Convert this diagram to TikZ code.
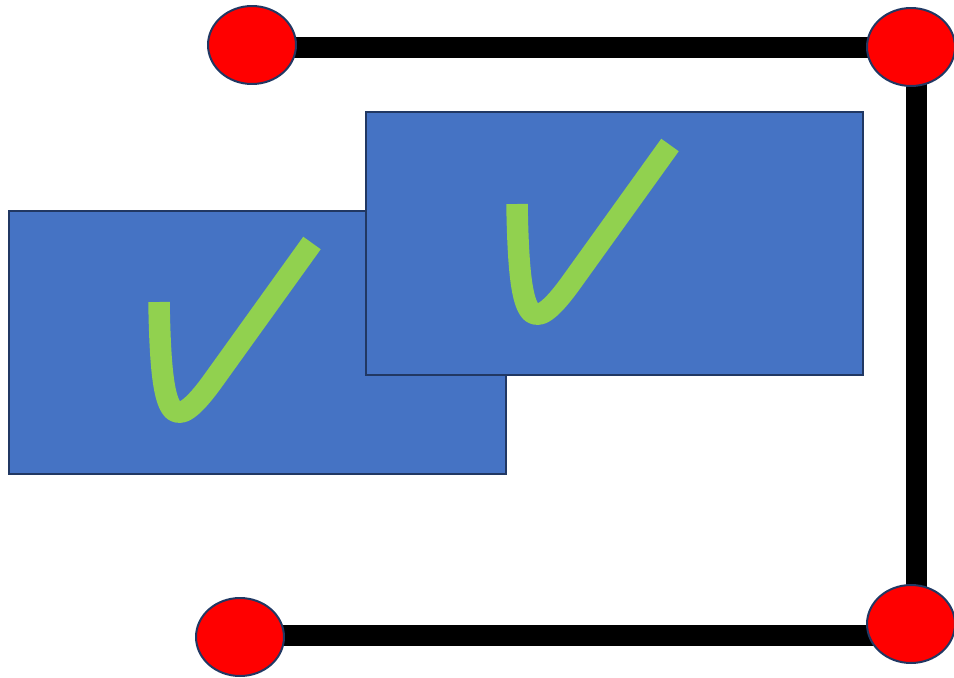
\documentclass[tikz,border=0pt]{standalone}
\usepackage{tikz}
\usetikzlibrary{calc}
\usetikzlibrary{shapes.geometric}
\definecolor{ffqqqq}{rgb}{1.,0.,0.}
\definecolor{qqzzbb}{rgb}{0.27,0.45,0.77}
\definecolor{nnaavv}{rgb}{0.13,0.22,0.39}
\definecolor{ggdd55}{rgb}{0.57,0.82,0.31}
\tikzset{
  panel/.style={draw=nnaavv,line width=0.04cm,fill=qqzzbb,rectangle,inner sep=0pt,
    minimum width=9.94cm,minimum height=5.26cm,anchor=north west},
  joint/.style={draw=nnaavv,line width=0.04cm,fill=ffqqqq,ellipse,inner sep=0pt,
    minimum width=1.76cm,minimum height=1.56cm},
  bar/.style={line width=0.42cm,color=black},
  tick/.style={line width=0.43cm,color=ggdd55,line join=round}
}
\begin{document}
\begin{tikzpicture}[x=0.02cm,y=-0.02cm]
            \useasboundingbox (0,0) rectangle (954,677);
            % panels with ticks
            \node[panel] (lowpanel) at (8,210) {};
            \draw[tick] (159,302) .. controls (161,420) and (171,440) .. (215,378) -- (312,243);
            \node[panel] (highpanel) at (365,111) {};
            \draw[tick,shift={(358,-98)}] (159,302) .. controls (161,420) and (171,440) .. (215,378) -- (312,243);
            % frame joints
            \coordinate (tlc) at (252,45);
            \coordinate (trc) at (911,47);
            \coordinate (blc) at (240,637);
            \coordinate (brc) at (911,624);
            \draw[bar] ($(tlc)+(0,2)$) -- (trc);
            \draw[bar] ($(trc)+(5,0)$) -- ($(brc)+(5,0)$);
            \draw[bar] ($(blc)+(0,-2)$) -- ($(brc)+(0,11)$);
            \node[joint] (tl) at (tlc) {};
            \node[joint] (tr) at (trc) {};
            \node[joint] (bl) at (blc) {};
            \node[joint] (br) at (brc) {};
\end{tikzpicture}
\end{document}
